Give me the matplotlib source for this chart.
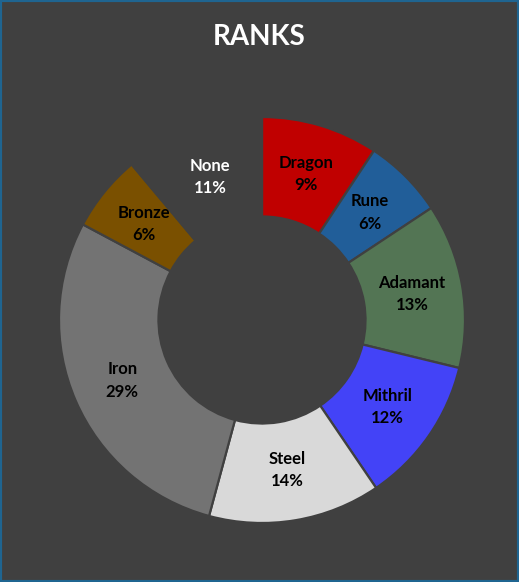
import matplotlib
matplotlib.use("Agg")
import matplotlib.pyplot as plt
from matplotlib.patches import Rectangle

# Data (clockwise from 12 o'clock), shares
ranks = ["Dragon", "Rune", "Adamant", "Mithril", "Steel", "Iron", "Bronze", "None"]
shares = [9.3, 6.4, 13.1, 11.7, 13.7, 28.6, 6.1, 11.1]
colors = ["#C00000", "#215E99", "#537554", "#4343F7", "#D9D9D9", "#737373", "#7A5000", "#404040"]
label_colors = ["black"] * 7 + ["white"]

bg = "#404040"

fig = plt.figure(figsize=(5.19, 5.82), dpi=100)
fig.patch.set_facecolor(bg)

# blue frame around the chart area
fig.patches.append(Rectangle((0, 0), 1, 1, transform=fig.transFigure,
                             fill=False, edgecolor="#1F6591", linewidth=3))

# pie axes: centre at (262, 320) px, outer radius 203 px
ax = fig.add_axes([59 / 519, 59 / 582, 406 / 519, 406 / 582])
ax.set_facecolor(bg)

total = sum(shares)
wedges, texts = ax.pie(
    shares,
    colors=colors,
    startangle=90,
    counterclock=False,
    radius=1.0,
    wedgeprops=dict(width=0.49, edgecolor=bg, linewidth=1.6),
    labels=[f"{r}\n{round(100 * s / total)}%" for r, s in zip(ranks, shares)],
    labeldistance=0.75,
    textprops=dict(fontsize=12, fontweight="bold", family="Lato",
                   ha="center", va="center", linespacing=1.5),
)
for t, c in zip(texts, label_colors):
    t.set_color(c)
    t.set_horizontalalignment("center")

ax.set_xlim(-1, 1)
ax.set_ylim(-1, 1)
ax.set_aspect("equal")
ax.axis("off")

fig.text(259 / 519, 1 - 37 / 582, "RANKS",
         color="white", fontsize=20, fontweight="bold", family="Lato",
         ha="center", va="center")

fig.savefig("out.png", dpi=100, facecolor=bg)
